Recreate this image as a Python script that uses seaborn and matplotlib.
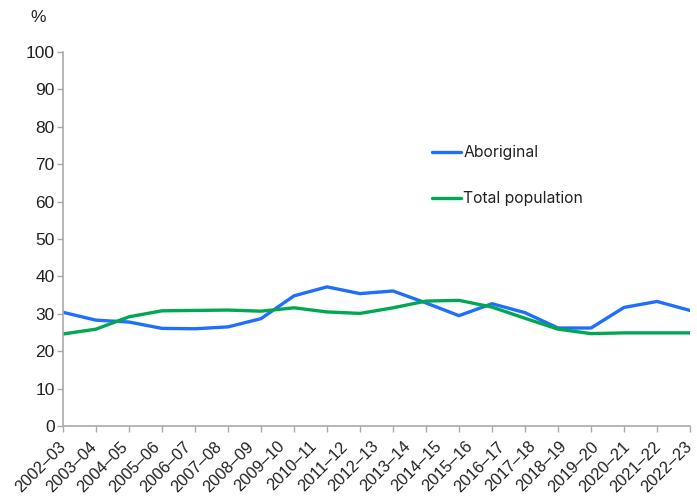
import numpy as np
import pandas as pd
import matplotlib
matplotlib.use("Agg")
import matplotlib.pyplot as plt
import seaborn as sns
from matplotlib.lines import Line2D

# ---- data ----
year_labels = ["2002-03", "2003-04", "2004-05", "2005-06", "2006-07", "2007-08",
               "2008-09", "2009-10", "2010-11", "2011-12", "2012-13", "2013-14",
               "2014-15", "2015-16", "2016-17", "2017-18", "2018-19", "2019-20",
               "2020-21", "2021-22", "2022-23"]
aboriginal = [30.4, 28.3, 27.8, 26.1, 26.0, 26.5, 28.7, 34.8, 37.2, 35.4,
              36.1, 32.9, 29.5, 32.7, 30.3, 26.2, 26.2, 31.7, 33.3, 30.9]
total_pop = [24.6, 25.9, 29.2, 30.8, 30.9, 31.0, 30.7, 31.6, 30.5, 30.1,
             31.6, 33.4, 33.6, 31.8, 28.8, 25.9, 24.7, 24.9, 24.9, 24.9]
series_names = ["Aboriginal", "Total population"]
series_colors = ["#1F6FFF", "#00A84F"]
y_ticks = list(range(0, 101, 10))

n = len(aboriginal)
df = pd.DataFrame({
    "idx": list(range(n)) * 2,
    "value": aboriginal + total_pop,
    "series": [series_names[0]] * n + [series_names[1]] * n,
})

sns.set_style("white")
plt.rcParams["font.family"] = ["Liberation Sans", "DejaVu Sans"]

fig = plt.figure(figsize=(6.97, 4.99), dpi=100)
ax = fig.add_axes([63 / 697, 1 - 426 / 499, (690 - 63) / 697, (426 - 52) / 499])

sns.lineplot(data=df, x="idx", y="value", hue="series",
             palette=dict(zip(series_names, series_colors)),
             linewidth=2.4, ax=ax, legend=False)

ax.set_xlim(0, n - 1)
ax.set_ylim(0, 100)
ax.set_yticks(y_ticks)
ax.set_yticklabels([str(v) for v in y_ticks], fontsize=12.5, color="#222222")

# major ticks at data points (no labels), labels spread evenly across the axis
ax.xaxis.remove_overlapping_locs = False
ax.set_xticks(np.arange(n))
ax.set_xticklabels([])
lab_pos = np.linspace(0, n - 1, len(year_labels))
ax.set_xticks(lab_pos, minor=True)
ax.set_xticklabels([y.replace("-", "\u2013") for y in year_labels], minor=True,
                   rotation=45, ha="right", va="center", rotation_mode="anchor",
                   fontsize=11.8, color="#222222")
ax.tick_params(axis="x", which="major", length=4, width=1, color="#AAAAAA",
               direction="out", bottom=True)
ax.tick_params(axis="x", which="minor", length=0, pad=13, bottom=True)
ax.tick_params(axis="y", length=4, width=1, color="#AAAAAA", direction="out",
               left=True, pad=2)

for s in ["top", "right"]:
    ax.spines[s].set_visible(False)
for s in ["left", "bottom"]:
    ax.spines[s].set_color("#AAAAAA")
    ax.spines[s].set_linewidth(1.2)
ax.set_xlabel("")
ax.set_ylabel("")
ax.grid(False)

fig.text(30 / 697, 1 - 17 / 499, "%", fontsize=12.5, color="#222222",
         ha="left", va="center")

handles = [Line2D([], [], color=c, linewidth=2.4) for c in series_colors]
leg = fig.legend(handles, series_names, loc="upper left",
                 bbox_to_anchor=(432 / 697, 1 - 145 / 499),
                 frameon=False, borderpad=0, borderaxespad=0,
                 handlelength=1.85, handletextpad=0.15, labelspacing=2.0,
                 prop={"family": ["Inter", "DejaVu Sans"], "size": 11.3})
for t in leg.get_texts():
    t.set_color("#222222")

fig.savefig("out.png", dpi=100)
